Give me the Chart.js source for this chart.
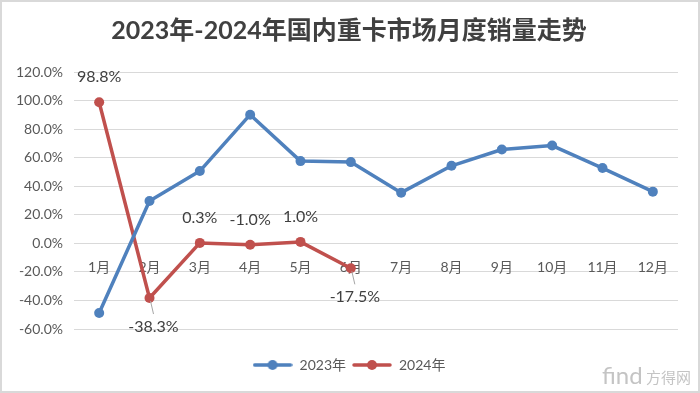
<!DOCTYPE html>
<html>
<head>
<meta charset="utf-8">
<script src="https://cdn.jsdelivr.net/npm/chart.js@4.4.0/dist/chart.umd.min.js"></script>
<style>
  html, body { margin: 0; padding: 0; background: #fff; }
</style>
</head>
<body>
<canvas id="chart" width="700" height="393"></canvas>
<script>
const months = ['1月', '2月', '3月', '4月', '5月', '6月', '7月', '8月', '9月', '10月', '11月', '12月'];
const sales2023 = [-48.8, 29.7, 50.6, 90.1, 57.6, 56.9, 35.5, 54.3, 65.7, 68.5, 52.7, 36.2];
const sales2024 = [98.8, -38.3, 0.3, -1.0, 1.0, -17.5];
const seriesNames = ['2023年', '2024年'];
const yMin = -60, yMax = 120, yStep = 20;
// where the 2024 value labels sit
const labelSide = ['above', 'below', 'above', 'above', 'above', 'below'];

const blue = '#4f81bd';
const red = '#c0504d';
const textColor = '#595959';
const baseFont = "Lato, 'Noto Sans CJK SC', sans-serif";

function legendIcon(color) {
  const c = document.createElement('canvas');
  c.width = 40; c.height = 12;
  const g = c.getContext('2d');
  g.strokeStyle = color;
  g.lineWidth = 3.5;
  g.lineCap = 'round';
  g.beginPath(); g.moveTo(2, 6); g.lineTo(38, 6); g.stroke();
  g.fillStyle = color;
  g.beginPath(); g.arc(20, 6, 5, 0, Math.PI * 2); g.fill();
  return c;
}
const icons = [legendIcon(blue), legendIcon(red)];

const frame = {
  id: 'frame',
  afterLayout(chart) {
    // title and legend are centred on the whole picture, not the padded box
    [chart.titleBlock, chart.legend].forEach(b => { b.left += 10; b.right += 10; });
  },
  beforeDraw(chart) {
    const ctx = chart.ctx;
    ctx.save();
    ctx.fillStyle = '#fff';
    ctx.fillRect(0, 0, chart.width, chart.height);
    ctx.restore();
  },
  afterDraw(chart) {
    const ctx = chart.ctx;
    ctx.save();
    ctx.strokeStyle = '#d9d9d9';
    ctx.lineWidth = 2;
    ctx.strokeRect(1, 1, chart.width - 2, chart.height - 2);
    // site watermark
    ctx.fillStyle = '#c4c4c4';
    ctx.textBaseline = 'alphabetic';
    ctx.font = "24px Lato, sans-serif";
    ctx.fillText('find', 602, 384);
    ctx.font = "15px 'Noto Sans CJK SC'";
    ctx.fillText('方得网', 646, 383);
    ctx.restore();
  }
};

const valueLabels = {
  id: 'valueLabels',
  afterDatasetsDraw(chart) {
    const ctx = chart.ctx;
    const meta = chart.getDatasetMeta(1);
    ctx.save();
    ctx.font = '16px ' + baseFont;
    ctx.fillStyle = '#404040';
    ctx.textAlign = 'center';
    ctx.textBaseline = 'middle';
    meta.data.forEach((pt, i) => {
      const txt = sales2024[i].toFixed(1) + '%';
      if (labelSide[i] === 'above') {
        ctx.fillText(txt, pt.x, pt.y - 25);
      } else {
        ctx.strokeStyle = '#a6a6a6';
        ctx.lineWidth = 1;
        ctx.beginPath();
        ctx.moveTo(pt.x + 1, pt.y + 3);
        ctx.lineTo(pt.x + 4, pt.y + 16);
        ctx.stroke();
        ctx.fillText(txt, pt.x + 4, pt.y + 29);
      }
    });
    ctx.restore();
  }
};

new Chart(document.getElementById('chart'), {
  type: 'line',
  data: {
    labels: months,
    datasets: [{
      label: seriesNames[0],
      data: sales2023,
      borderColor: blue,
      backgroundColor: blue,
      borderWidth: 3.5,
      pointRadius: 5,
      pointBorderWidth: 0,
      borderJoinStyle: 'round',
      borderCapStyle: 'round'
    }, {
      label: seriesNames[1],
      data: sales2024,
      borderColor: red,
      backgroundColor: red,
      borderWidth: 3.5,
      pointRadius: 5,
      pointBorderWidth: 0,
      borderJoinStyle: 'round',
      borderCapStyle: 'round'
    }]
  },
  options: {
    responsive: false,
    animation: false,
    layout: { padding: { top: 4, left: 0, right: 22, bottom: 11 } },
    scales: {
      x: {
        position: { y: 0 },
        offset: true,
        grid: { display: false },
        border: { display: false },
        ticks: { color: textColor, font: { family: baseFont, size: 14 }, padding: 8, maxRotation: 0 }
      },
      y: {
        min: yMin,
        max: yMax,
        afterFit(scale) { scale.width = 74; },
        grid: { color: '#d9d9d9', lineWidth: 1, drawTicks: false },
        border: { display: false },
        ticks: {
          stepSize: yStep,
          padding: 11,
          color: textColor,
          font: { family: baseFont, size: 14 },
          callback: v => v.toFixed(1) + '%'
        }
      }
    },
    plugins: {
      tooltip: { enabled: false },
      title: {
        display: true,
        text: '2023年-2024年国内重卡市场月度销量走势',
        color: '#404040',
        font: { family: baseFont, size: 25, weight: 'bold' },
        padding: { top: 12, bottom: 26 }
      },
      legend: {
        position: 'bottom',
        title: { display: true, text: '', padding: { top: 11, bottom: 0 }, font: { size: 10 } },
        labels: {
          usePointStyle: true,
          pointStyleWidth: 40,
          padding: 6,
          color: textColor,
          font: { family: baseFont, size: 14 },
          generateLabels(chart) {
            const items = Chart.defaults.plugins.legend.labels.generateLabels(chart);
            items.forEach((it, i) => { it.pointStyle = icons[i]; it.fontColor = textColor; });
            return items;
          }
        }
      }
    }
  },
  plugins: [frame, valueLabels]
});
</script>
</body>
</html>
